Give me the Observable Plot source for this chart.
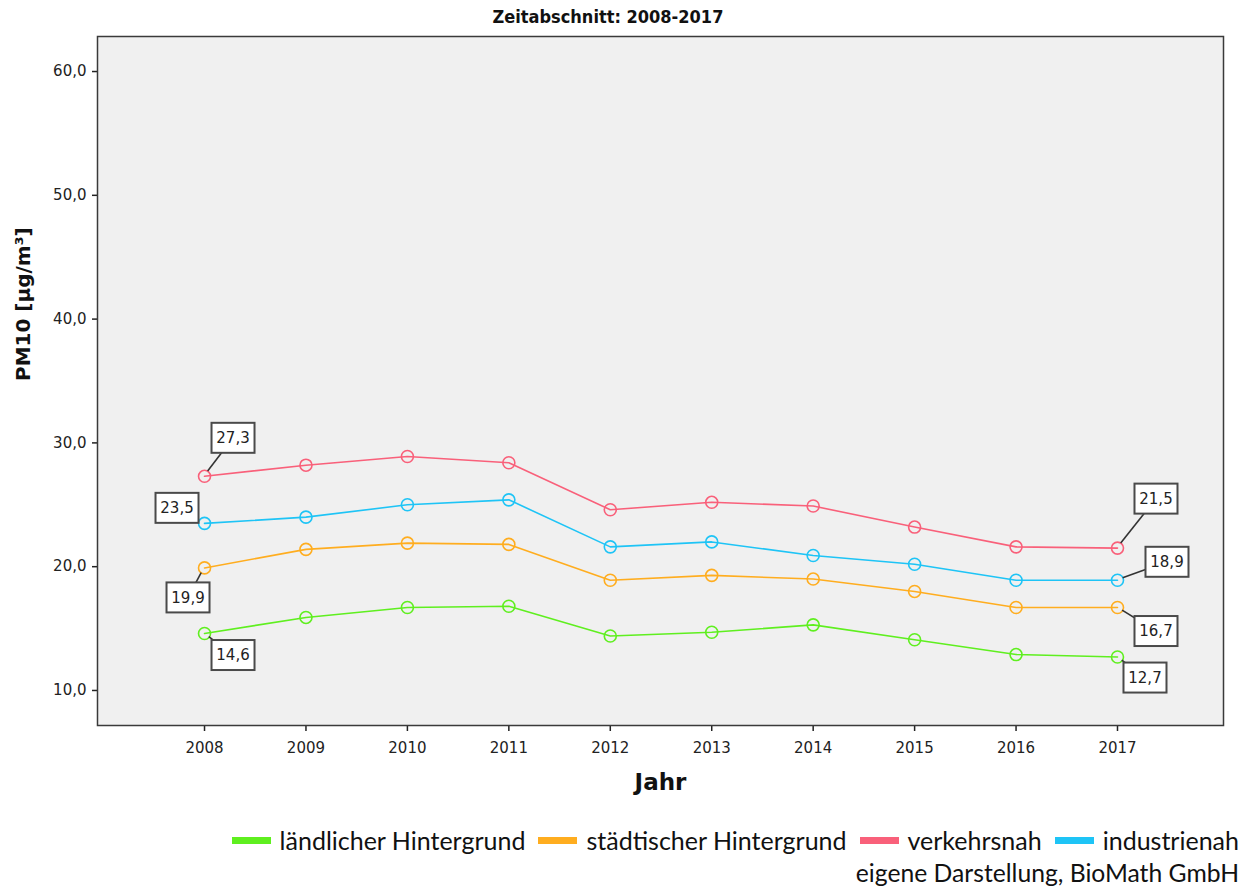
<!DOCTYPE html>
<html>
<head>
<meta charset="utf-8">
<script src="https://cdn.jsdelivr.net/npm/d3@7"></script>
<script src="https://cdn.jsdelivr.net/npm/@observablehq/plot@0.6"></script>
<style>
  html, body { margin: 0; padding: 0; background: #fff; }
  #wrap { position: relative; width: 1251px; height: 891px; overflow: hidden; }
  #title { position: absolute; top: 6px; left: 0; width: 1216px; text-align: center;
    font-family: "DejaVu Sans Condensed", "DejaVu Sans", sans-serif; font-stretch: condensed;
    font-weight: bold; font-size: 18px; color: #111; }
  #chart { position: absolute; top: 0; left: 0; }
  #chart svg text { font-family: "DejaVu Sans", sans-serif; }
  #legend { position: absolute; top: 825px; right: 12px; display: flex; align-items: center;
    font-family: Lato, "Noto Sans", sans-serif; font-size: 25px; color: #111; white-space: nowrap; }
  #legend .item { display: flex; align-items: center; margin-left: 13px; }
  #legend .sw { width: 39px; height: 7px; margin-right: 9px; }
  #caption { position: absolute; top: 858px; right: 12px; font-family: Lato, "Noto Sans", sans-serif;
    font-size: 24.7px; color: #111; white-space: nowrap; }
</style>
</head>
<body>
<div id="wrap">
  <div id="chart"></div>
  <div id="title">Zeitabschnitt: 2008-2017</div>
  <div id="legend"></div>
  <div id="caption">eigene Darstellung, BioMath GmbH</div>
</div>
<script>
// ---- data ----
const years = [2008, 2009, 2010, 2011, 2012, 2013, 2014, 2015, 2016, 2017];
const seriesNames = ["ländlicher Hintergrund", "städtischer Hintergrund", "verkehrsnah", "industrienah"];
const laendlich   = [14.6, 15.9, 16.7, 16.8, 14.4, 14.7, 15.3, 14.1, 12.9, 12.7];
const staedtisch  = [19.9, 21.4, 21.9, 21.8, 18.9, 19.3, 19.0, 18.0, 16.7, 16.7];
const verkehrsnah = [27.3, 28.2, 28.9, 28.4, 24.6, 25.2, 24.9, 23.2, 21.6, 21.5];
const industrienah= [23.5, 24.0, 25.0, 25.4, 21.6, 22.0, 20.9, 20.2, 18.9, 18.9];
const yTicks = [10, 20, 30, 40, 50, 60];
const colors = ["#5fef1f", "#ffad1f", "#f9607a", "#1ec4f6"];

// ---- layout (label box offsets in px, relative to the point) ----
const labelOffsets = {
  "verkehrsnah|2008": [29, -38], "verkehrsnah|2017": [39, -49],
  "industrienah|2008": [-27, -15], "industrienah|2017": [50, -18],
  "städtischer Hintergrund|2008": [-16, 30], "städtischer Hintergrund|2017": [39, 24],
  "ländlicher Hintergrund|2008": [29, 22], "ländlicher Hintergrund|2017": [28, 21]
};

const valueArrays = [laendlich, staedtisch, verkehrsnah, industrienah];
const rows = [];
seriesNames.forEach((s, si) => years.forEach((y, yi) => rows.push({series: s, year: y, value: valueArrays[si][yi]})));
const labelRows = rows.filter(d => d.year === years[0] || d.year === years[years.length - 1]);

const fmt = v => v.toFixed(1).replace(".", ",");

const boxW = 43, boxH = 30;

const chart = Plot.plot({
  width: 1251,
  height: 810,
  marginTop: 36,
  marginBottom: 85,
  marginLeft: 97,
  marginRight: 28,
  style: {fontFamily: "'DejaVu Sans', sans-serif", fontSize: "15px", color: "#222", background: "transparent"},
  x: {type: "linear", domain: [2006.945, 2018.045]},
  y: {domain: [7.17, 62.83]},
  color: {domain: seriesNames, range: colors},
  marks: [
    Plot.frame({fill: "#f0f0f0"}),
    Plot.axisX({ticks: years, tickFormat: d => String(d), tickSize: 6, tickPadding: 11, stroke: "#222", strokeWidth: 1.5, fontSize: 15, label: null}),
    Plot.axisY({ticks: yTicks, tickFormat: fmt, tickSize: 5, tickPadding: 6, stroke: "#222", strokeWidth: 1.5, fontSize: 15, label: null}),
    Plot.line(rows, {x: "year", y: "value", z: "series", stroke: "series", strokeWidth: 1.6}),
    Plot.dot(rows, {x: "year", y: "value", stroke: "series", r: 6, strokeWidth: 1.6, fill: "none"}),
    Plot.text(labelRows, {
      x: "year", y: "value", text: d => fmt(d.value),
      render(index, scales, values, dimensions, context, next) {
        const g = d3.create("svg:g");
        for (const i of index) {
          const d = labelRows[i];
          const px = values.x[i], py = values.y[i];
          const off = labelOffsets[d.series + "|" + d.year];
          const cx = px + off[0], cy = py + off[1];
          const dist = Math.hypot(off[0], off[1]);
          g.append("line")
            .attr("x1", px + off[0] / dist * 6).attr("y1", py + off[1] / dist * 6)
            .attr("x2", cx).attr("y2", cy)
            .attr("stroke", "#333").attr("stroke-width", 1.6);
          g.append("rect")
            .attr("x", cx - boxW / 2).attr("y", cy - boxH / 2)
            .attr("width", boxW).attr("height", boxH)
            .attr("fill", "#fff").attr("stroke", "#4a4a4a").attr("stroke-width", 2);
          g.append("text")
            .attr("x", cx).attr("y", cy).attr("dy", "0.36em")
            .attr("text-anchor", "middle")
            .attr("font-size", 15).attr("fill", "#222")
            .text(fmt(d.value));
        }
        return g.node();
      }
    }),
    Plot.frame({stroke: "#3a3a3a", strokeWidth: 1.5}),
    Plot.text(["PM10 [µg/m³]"], {frameAnchor: "left", dx: -74, rotate: -90, fontSize: 20, fontWeight: "bold", fill: "#111"}),
    Plot.text(["Jahr"], {frameAnchor: "bottom", dy: 64, fontSize: 23, fontWeight: "bold", fill: "#111"})
  ]
});
document.getElementById("chart").appendChild(chart);

const legend = document.getElementById("legend");
seriesNames.forEach((s, i) => {
  const it = document.createElement("div");
  it.className = "item";
  const sw = document.createElement("span");
  sw.className = "sw";
  sw.style.background = colors[i];
  const tx = document.createElement("span");
  tx.textContent = s;
  it.appendChild(sw); it.appendChild(tx);
  legend.appendChild(it);
});
</script>
</body>
</html>
